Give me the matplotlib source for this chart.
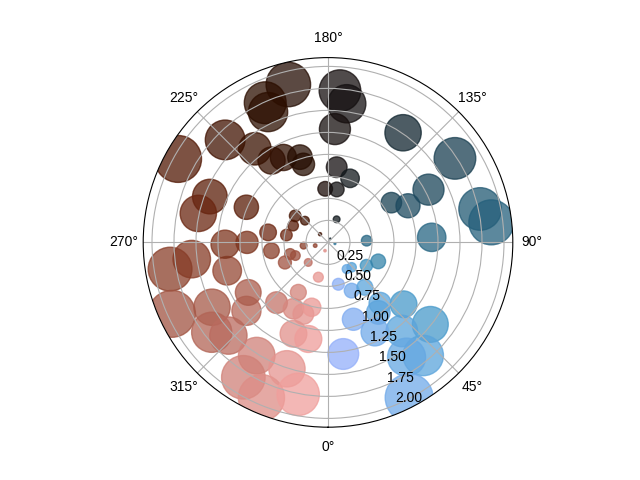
import numpy as np
import matplotlib
matplotlib.use("Agg")
import matplotlib.pyplot as plt

plt.rcParams['font.family'] = ['Liberation Sans', 'DejaVu Sans']

# angle in degrees (0 at bottom, counter-clockwise), radius
theta_deg = [
    194.1, 204.2, 204.7, 225.1, 218.0, 214.6, 207.7, 198.2, 197.5, 240.9,
    248.8, 257.4, 246.7, 260.5, 260.0, 244.3, 231.0, 226.7, 224.0,
    277.6, 284.0, 149.0, 80.0, 159.5, 340.0, 287.1, 292.0, 315.4, 344.5,
    92.5, 43.5, 58.9,
    175.5, 172.3, 176.5, 145.6, 123.5, 173.4, 161.0, 183.0, 170.6, 117.7,
    122.1, 114.6, 102.4, 97.0, 92.8,
    69.3, 35.0, 13.9, 26.1, 39.4, 50.7, 35.7, 18.3, 51.3, 39.8, 27.6, 7.8,
    40.1, 34.4, 27.6, 40.5,
    279.6, 277.0, 285.7, 271.0, 270.0, 294.6, 299.2, 307.7, 313.1, 310.0,
    302.1, 327.8, 327.9, 336.8, 342.0, 348.9, 339.3, 348.5, 319.5, 329.3,
    332.5, 341.0, 345.9, 278.4, 295.0,
]
r = [
    1.85, 1.74, 1.63, 1.65, 1.35, 1.13, 1.09, 1.02, 0.93, 1.95,
    1.44, 1.51, 1.01, 0.69, 0.48, 0.44, 0.48, 0.36, 0.13,
    0.28, 0.15, 0.05, 0.08, 0.28, 0.10, 0.45, 0.40, 0.32, 0.41,
    0.44, 0.39, 0.51,
    1.73, 1.59, 1.29, 1.51, 1.73, 0.86, 0.77, 0.61, 0.61, 1.29,
    0.85, 1.00, 1.77, 1.87, 1.18,
    0.61, 0.37, 0.49, 0.61, 0.66, 1.11, 0.98, 0.92, 1.49, 1.31, 1.15, 1.28,
    1.68, 1.58, 1.99, 0.91,
    1.82, 1.56, 1.19, 1.17, 0.92, 1.95, 1.51, 1.67, 1.55, 1.21,
    1.07, 1.52, 1.81, 1.92, 1.51, 1.76, 1.11, 1.12, 0.90, 0.66,
    0.85, 0.86, 0.76, 0.65, 0.54,
]

theta = np.deg2rad(theta_deg)
r = np.array(r)
area = 300 * r**2
colors = theta

fig = plt.figure(figsize=(6.4, 4.8), dpi=100)
ax = fig.add_subplot(projection='polar')
ax.scatter(theta, r, c=colors, s=area, cmap='berlin', alpha=0.75,
           vmin=0, vmax=2 * np.pi)
ax.set_theta_zero_location('S')
ax.set_rmax(2.1)

fig.savefig('out.png')
